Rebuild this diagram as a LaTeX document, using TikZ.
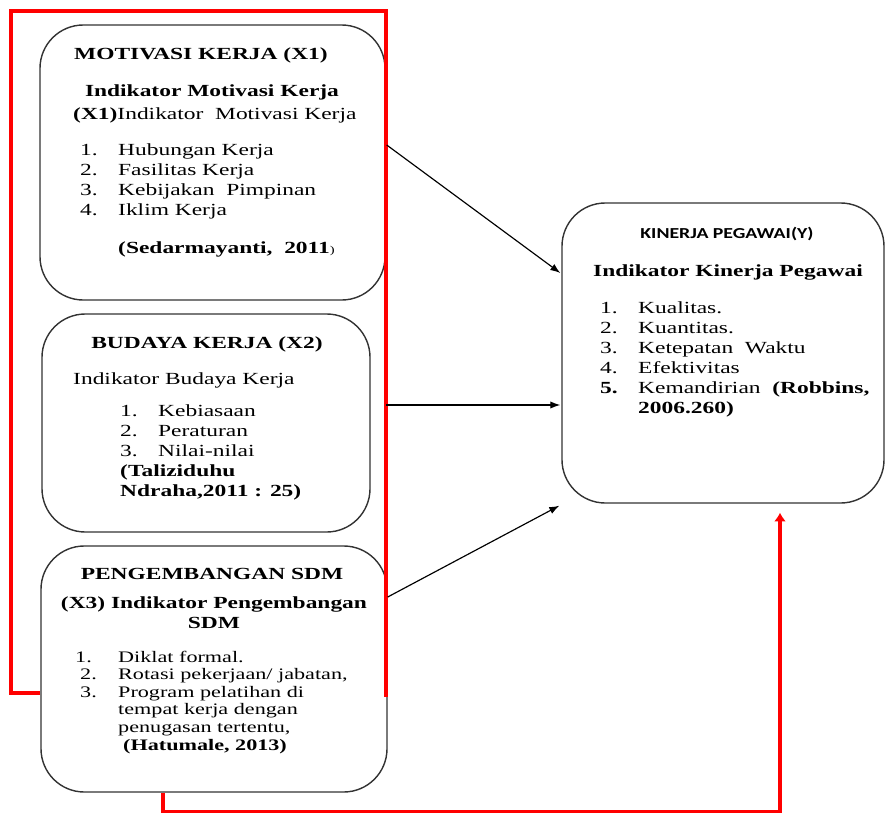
\documentclass[tikz,border=0pt]{standalone}
\usepackage{fontspec}
\setmainfont[FakeStretch=1.38]{Liberation Serif}
\newfontfamily\sansjudul[FakeStretch=1.3]{Carlito}
\usetikzlibrary{calc,arrows.meta}

\begin{document}
\begin{tikzpicture}[x=0.03cm,y=-0.03cm]
	% Gaya
	\tikzstyle{kotak}=[draw=black!80,line width=1.2pt,rounded corners=1.3cm,inner sep=0pt]
	\tikzstyle{panah}=[->,>={Latex[length=3mm,width=2.2mm]},line width=1pt]
	\tikzstyle{garis merah}=[red,line width=3pt]
	\tikzstyle{teks}=[inner sep=0pt,anchor=base west,font=\fontsize{14.5}{17.07}\selectfont]
	\tikzstyle{judul}=[teks,anchor=base,font=\fontsize{14.5}{17.07}\selectfont\bfseries]
	\tikzstyle{daftar}=[teks,align=left]
	\tikzstyle{daftar kecil}=[daftar,font=\fontsize{13.7}{15}\selectfont]
	% Ukuran
	\def\Tab{1.14cm}
	\useasboundingbox (0,0) rectangle (886,813);
	% Kotak
	\node[kotak,minimum width=10.35cm,minimum height=8.25cm] (X1) at (212.5,162.5) {};
	\node[kotak,minimum width=9.84cm,minimum height=6.54cm] (X2) at (206,423) {};
	\node[kotak,minimum width=10.38cm,minimum height=7.38cm] (X3) at (214,669) {};
	\node[kotak,minimum width=9.66cm,minimum height=9cm] (Y) at (723,353) {};
	% Isi X1 (titik acuan = garis dasar baris terakhir)
	\node[judul] (judulX1) at (201,59) {MOTIVASI KERJA (X1)};
	\node[judul] (indX1) at (212,96) {Indikator Motivasi Kerja};
	\node[teks] (indX1b) at (73,119) {\textbf{(X1)}Indikator\ \ Motivasi Kerja};
	\node[daftar] (daftarX1) at (80,215) {\makebox[\Tab][l]{1.}Hubungan Kerja\\
		\makebox[\Tab][l]{2.}Fasilitas Kerja\\
		\makebox[\Tab][l]{3.}Kebijakan\ \ Pimpinan\\
		\makebox[\Tab][l]{4.}Iklim Kerja};
	\node[teks] (sumberX1) at (118,253) {\textbf{(Sedarmayanti,\ \ 2011}{\small)}};
	% Isi X2
	\node[judul] (judulX2) at (207,348) {BUDAYA KERJA (X2)};
	\node[teks] (indX2) at (73,384) {Indikator Budaya Kerja};
	\node[daftar] (daftarX2) at (120,496) {\makebox[\Tab][l]{1.}Kebiasaan\\
		\makebox[\Tab][l]{2.}Peraturan\\
		\makebox[\Tab][l]{3.}Nilai-nilai\\
		\textbf{(Taliziduhu}\\
		\textbf{Ndraha,2011 : 25)}};
	% Isi X3
	\node[judul] (judulX3) at (212,579) {PENGEMBANGAN SDM};
	\node[judul,align=center,font=\fontsize{14.5}{17}\selectfont\bfseries] (indX3) at (214,628) {(X3) Indikator Pengembangan\\SDM};
	\node[daftar kecil] (daftarX3) at (75,750) {\makebox[1.29cm][l]{1.}Diklat formal.\\
		\hspace{0.15cm}\makebox[\Tab][l]{2.}Rotasi pekerjaan/ jabatan,\\
		\hspace{0.15cm}\makebox[\Tab][l]{3.}Program pelatihan di\\
		\hspace{1.29cm}tempat kerja dengan\\
		\hspace{1.29cm}penugasan tertentu,\\
		\hspace{1.44cm}\textbf{(Hatumale, 2013)}};
	% Isi Y
	\node[judul,font=\fontsize{13}{15}\sansjudul\bfseries] (judulY) at (727,238) {KINERJA PEGAWAI(Y)};
	\node[judul] (indY) at (728,276) {Indikator Kinerja Pegawai};
	\node[daftar] (daftarY) at (600,413) {\makebox[\Tab][l]{1.}Kualitas.\\
		\makebox[\Tab][l]{2.}Kuantitas.\\
		\makebox[\Tab][l]{3.}Ketepatan\ \ Waktu\\
		\makebox[\Tab][l]{4.}Efektivitas\\
		\makebox[\Tab][l]{\textbf{5.}}Kemandirian\ \ \textbf{(Robbins,}\\
		\hspace{\Tab}\textbf{2006.260)}};
	% Garis merah
	\coordinate (kelompok) at (386,405);
	\draw[garis merah] ($(X3.west)+(0,24)$) -- (11,693) -- (11,11) -- (386,11) -- (386,697);
	\draw[garis merah,->,>={Latex[length=2.6mm,width=3.6mm]}] ($(X3.south)+(-51,0)$) -- ++(0,19.5) -| ($(Y.south)+(57,9)$);
	% Panah
	\draw[panah] ($(X1.east)+(1,-17.5)$) -- ($(Y.west)+(-1,-80)$);
	\draw[panah] (kelompok) -- ($(Y.west)+(-1,52)$);
	\draw[panah] ($(X3.east)+(0,-72)$) -- ($(Y.south west)+(-2,2)$);
\end{tikzpicture}
\end{document}
